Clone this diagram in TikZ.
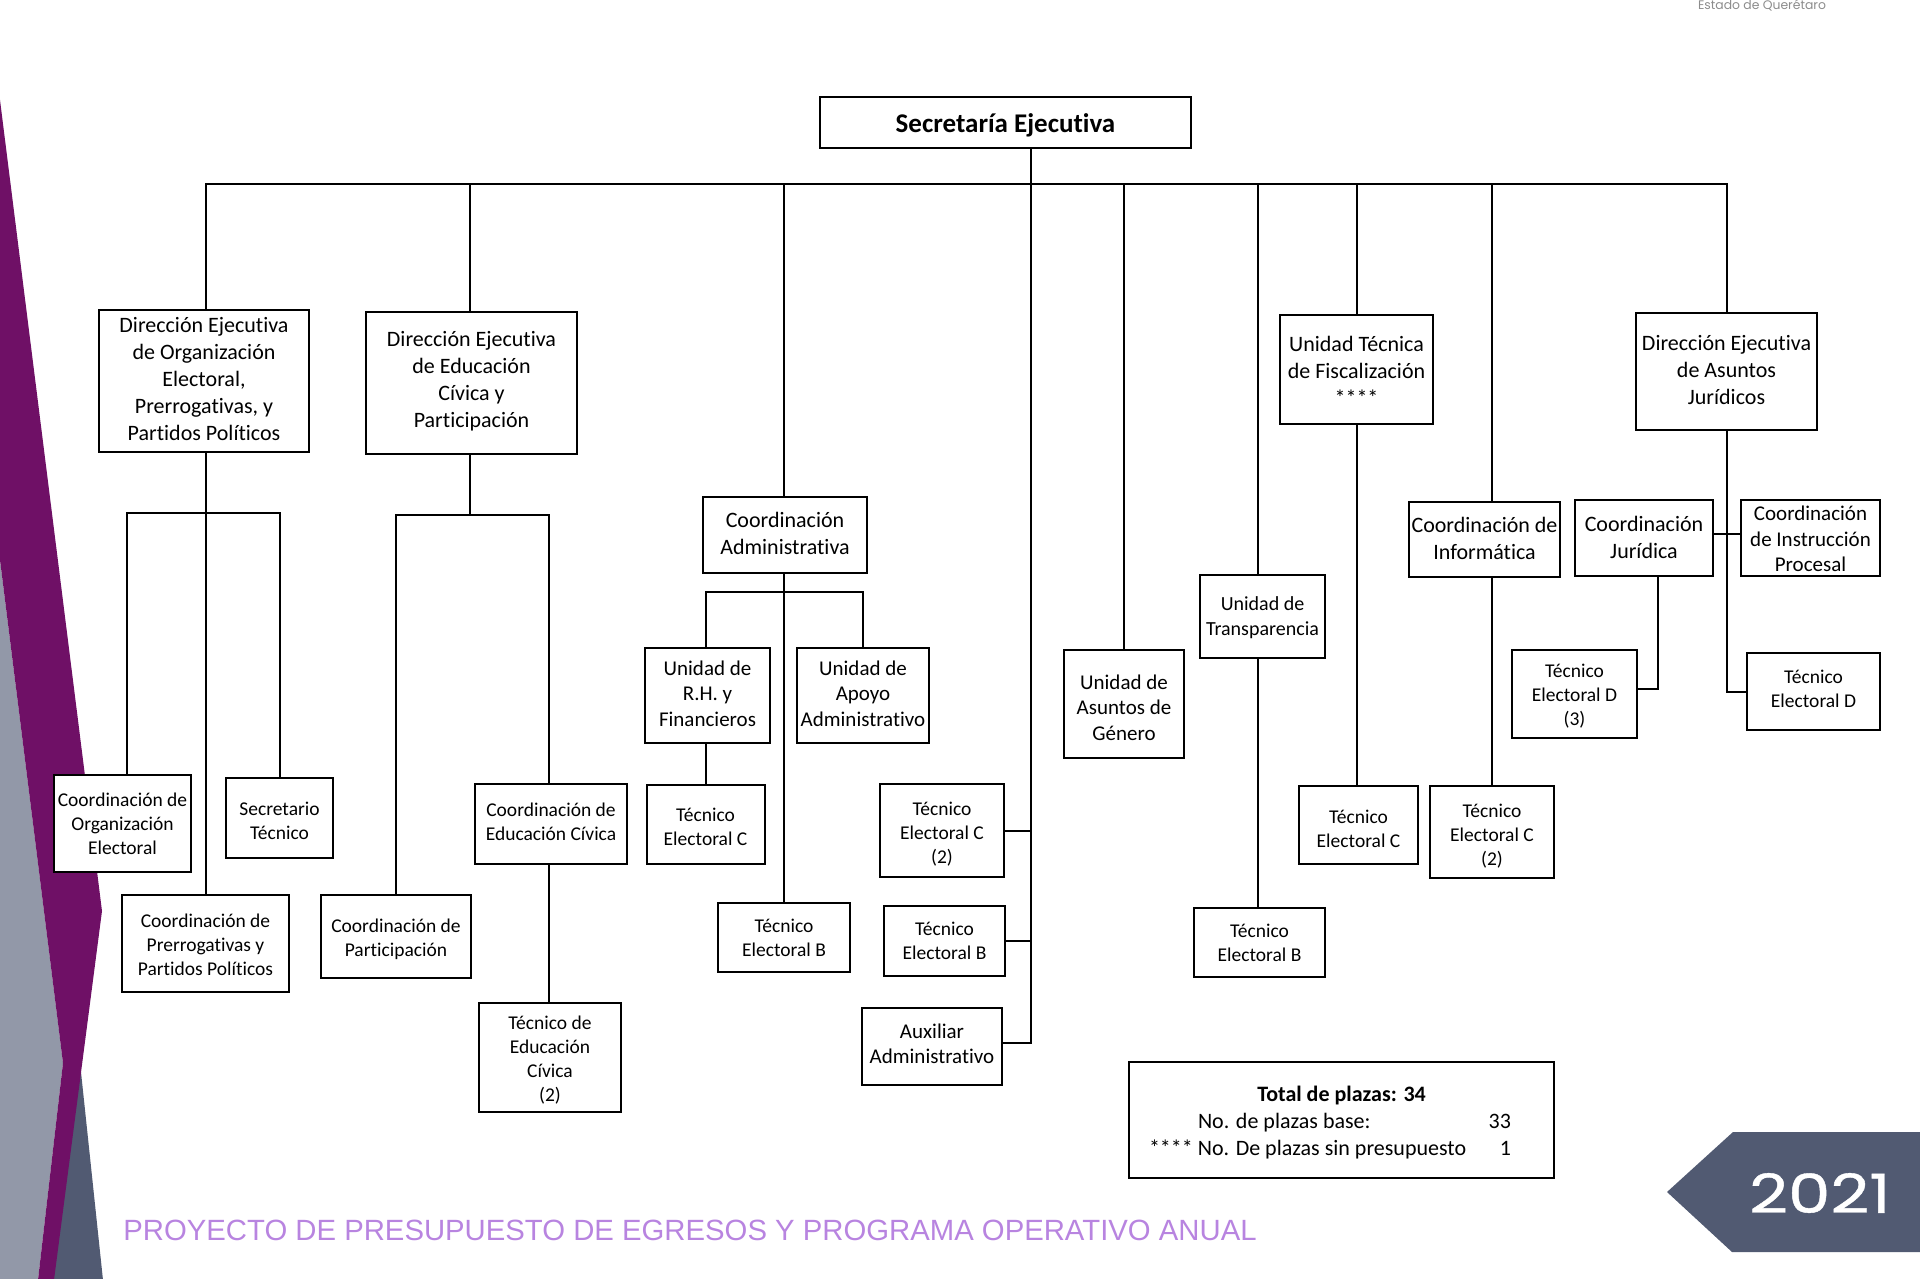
\documentclass[tikz,border=0pt]{standalone}
\usepackage{fontspec}
\setmainfont{Carlito}[Ligatures=NoCommon]
\newfontfamily\footfont{Liberation Sans}
\newfontfamily\yearfont{Poppins}[FakeBold=0.7]
\newfontfamily\stampfont{Poppins}
\newcommand{\tdn}[1]{\rule{0pt}{\dimexpr0.7em+#1\relax}}
\usetikzlibrary{positioning}
\definecolor{plum}{HTML}{6F1066}
\definecolor{slate}{HTML}{515A72}
\definecolor{mist}{HTML}{9298A8}
\definecolor{lilac}{HTML}{B884E0}
\begin{document}
\begin{tikzpicture}[
    x=0.5pt, y=-0.5pt,
    box/.style={draw, fill=white, line width=1pt, align=center, inner sep=0pt},
    boxl/.style={box, font=\fontsize{11}{13.5}\selectfont},
    boxm/.style={box, font=\fontsize{10.5}{12.75}\selectfont},
    boxs/.style={box, font=\fontsize{9.75}{12}\selectfont},
    tup/.style={execute at end node={\rule[-#1]{0pt}{0pt}}},
    conn/.style={line width=1pt}
  ]
  \useasboundingbox (0,0) rectangle (1920,1278.5);
  \fill[mist] (0,560) -- (63,1063) -- (38,1280) -- (0,1280) -- cycle;
  \fill[slate] (70,1072) -- (81,1072) -- (103,1280) -- (45,1280) -- cycle;
  \fill[plum] (0,100) -- (102,911) -- (54,1280) -- (38,1280) -- (63,1063) -- (0,560) -- cycle;
  \fill[slate] (1667,1192) -- (1733,1132) -- (1920,1132) -- (1920,1252) -- (1732,1252) -- cycle;
  \node[text=white, xscale=1.25, transform shape, font=\yearfont\fontsize{27}{30}\selectfont] (year) at (1820,1193) {2021};
  \node[text=black!45, font=\stampfont\fontsize{6.2}{8}\selectfont] (estado) at (1762,5) {Estado de Querétaro};
  \node[anchor=west, inner sep=0pt, text=lilac, font=\footfont\fontsize{14.65}{18}\selectfont] (foot) at (123,1230) {PROYECTO DE PRESUPUESTO DE EGRESOS Y PROGRAMA OPERATIVO ANUAL};

  \node[box, minimum width=185.5pt, minimum height=25.5pt, font=\bfseries\fontsize{13.5}{16}\selectfont] (sec) at (1005.5,122.5) {\tdn{2.4pt}Secretaría Ejecutiva};
  \node[boxl, tup=2.4pt, minimum width=105pt, minimum height=71pt] (deoe) at (204,381) {Dirección Ejecutiva\\de Organización\\Electoral,\\Prerrogativas, y\\Partidos Políticos};
  \node[boxl, tup=4pt, minimum width=105.5pt, minimum height=71pt] (deec) at (471.5,383) {Dirección Ejecutiva\\de Educación\\Cívica y\\Participación};
  \node[boxl, tup=1.8pt, minimum width=82pt, minimum height=38pt] (adm) at (785,535) {Coordinación\\Administrativa};
  \node[boxl, minimum width=76.5pt, minimum height=54.5pt] (utf) at (1356.5,369.5) {\tdn{1.2pt}Unidad Técnica\\de Fiscalización\\****};
  \node[boxl, tup=1.5pt, minimum width=90.5pt, minimum height=58.5pt] (deaj) at (1726.5,371.5) {Dirección Ejecutiva\\de Asuntos\\Jurídicos};
  \node[boxl, tup=1.2pt, minimum width=75.5pt, minimum height=37.5pt] (inf) at (1484.5,539.5) {Coordinación de\\Informática};
  \node[boxl, tup=1pt, minimum width=69pt, minimum height=38pt] (jur) at (1644,538) {Coordinación\\Jurídica};
  \node[boxm, minimum width=69.5pt, minimum height=38pt] (inst) at (1810.5,538) {\tdn{1.2pt}Coordinación\\de Instrucción\\Procesal};
  \node[boxs, minimum width=62.5pt, minimum height=41.5pt, font=\fontsize{10}{12.25}\selectfont] (transp) at (1262.5,616.5) {\tdn{1.2pt}Unidad de\\Transparencia};
  \node[boxm, minimum width=60pt, minimum height=54pt] (gen) at (1124,704) {\tdn{3.6pt}Unidad de\\Asuntos de\\Género};
  \node[boxm, tup=1.8pt, minimum width=62.5pt, minimum height=47.5pt] (rh) at (707.5,695.5) {Unidad de\\R.H. y\\Financieros};
  \node[boxm, tup=1.8pt, minimum width=66pt, minimum height=47.5pt] (apoyo) at (863,695.5) {Unidad de\\Apoyo\\Administrativo};

  \node[boxs, minimum width=59pt, minimum height=39.5pt, below=20pt of rh, xshift=-1pt] (tecrh) {\tdn{2.4pt}Técnico\\Electoral C};
  \node[boxs, minimum width=66pt, minimum height=34.5pt, below=164pt of adm, xshift=-0.5pt] (tecadm) {Técnico\\Electoral B};
  \node[boxs, minimum width=62pt, minimum height=46.5pt] (tecc) at (942,830.5) {\tdn{3.6pt}Técnico\\Electoral C\\(2)};
  \node[boxs, minimum width=60.5pt, minimum height=35pt] (tecb) at (944.5,941) {Técnico\\Electoral B};
  \node[boxm, tup=3pt, minimum width=70pt, minimum height=38.5pt] (aux) at (932,1046.5) {Auxiliar\\Administrativo};
  \node[boxs, minimum width=68.5pt, minimum height=48.5pt] (org) at (122.5,823.5) {Coordinación de\\Organización\\Electoral};
  \node[boxs, minimum width=53.5pt, minimum height=40pt] (sectec) at (279.5,818) {\tdn{2.4pt}Secretario\\Técnico};
  \node[boxs, minimum width=83.5pt, minimum height=48.5pt, below=220.5pt of deoe, xshift=0.75pt] (prer) {\tdn{1.2pt}Coordinación de\\Prerrogativas y\\Partidos Políticos};
  \node[boxs, minimum width=75pt, minimum height=41.5pt] (part) at (396,936.5) {\tdn{2.4pt}Coordinación de\\Participación};
  \node[boxs, tup=2.4pt, minimum width=76pt, minimum height=40pt] (coordec) at (551,824) {Coordinación de\\Educación Cívica};
  \node[boxs, minimum width=71pt, minimum height=54.5pt, below=68.5pt of coordec, xshift=-0.5pt] (tecec) {\tdn{2.4pt}Técnico de\\Educación\\Cívica\\(2)};
  \node[boxs, minimum width=62.5pt, minimum height=44pt] (tecd3) at (1574.5,694) {\tdn{2.4pt}Técnico\\Electoral D\\(3)};
  \node[boxs, tup=2.4pt, minimum width=66.5pt, minimum height=38.5pt] (tecd) at (1813.5,691.5) {Técnico\\Electoral D};
  \node[boxs, minimum width=59.5pt, minimum height=39pt, below=180pt of utf, xshift=1pt] (tecutf) {\tdn{3.6pt}Técnico\\Electoral C};
  \node[boxs, minimum width=62pt, minimum height=46pt, below=103.5pt of inf, xshift=3.75pt] (tecinf) {\tdn{3.6pt}Técnico\\Electoral C\\(2)};
  \node[boxs, minimum width=65.5pt, minimum height=34.5pt, below=124pt of transp, xshift=-1.5pt] (tectransp) {Técnico\\Electoral B};
  \node[boxl, minimum width=212.5pt, minimum height=58pt] (total) at (1341.5,1120) {\tdn{2.4pt}\textbf{Total de plazas: 34}\\\makebox[192.5pt][s]{\hspace{24.5pt}No. de plazas base:\hfill 33\hspace{11.5pt}}\\\makebox[192.5pt][s]{**** No. De plazas sin presupuesto\hfill 1\hspace{11.5pt}}};

  \coordinate (bus) at (1031,184);
  \coordinate (deoebar) at (206,513);
  \coordinate (deecbar) at (470,515);
  \coordinate (admbar) at (784,592);

  \draw[conn] ([xshift=1pt]deoe.north) |- (bus);
  \draw[conn] (deaj.north) |- (bus);
  \draw[conn] (sec.south -| bus) |- ([yshift=2pt]aux.east);
  \draw[conn] ([xshift=-0.75pt]deec.north) -- ([xshift=-0.75pt]deec.north |- bus);
  \draw[conn] (tecadm.north |- adm.north) -- (tecadm.north |- bus);
  \draw[conn] (gen.north) -- (gen.north |- bus);
  \draw[conn] ([xshift=-2.25pt]transp.north) -- ([xshift=-2.25pt]transp.north |- bus);
  \draw[conn] (utf.north) -- (utf.north |- bus);
  \draw[conn] (tecinf.north |- inf.north) -- (tecinf.north |- bus);
  \draw[conn] (tecc.east) -- (tecc.east -| bus);
  \draw[conn] (tecb.east) -- (tecb.east -| bus);

  \draw[conn] (prer.north |- deoe.south) -- (prer.north);
  \draw[conn] ([xshift=2.25pt]org.north) |- (deoebar) -| (sectec.north);
  \draw[conn] (deecbar |- deec.south) -- (deecbar);
  \draw[conn] (part.north) |- (deecbar) -| ([xshift=-1pt]coordec.north);
  \draw[conn] ([xshift=-0.5pt]tecec.north |- coordec.south) -- ([xshift=-0.5pt]tecec.north);
  \draw[conn] (tecadm.north |- adm.south) -- (tecadm.north);
  \draw[conn] (tecrh.north |- rh.north) |- (admbar) -| (apoyo.north);
  \draw[conn] (tecrh.north |- rh.south) -- (tecrh.north);
  \draw[conn] (utf.south) -- (utf.south |- tecutf.north);
  \draw[conn] (tecinf.north |- inf.south) -- (tecinf.north);
  \draw[conn] ([xshift=-0.75pt]tectransp.north |- transp.south) -- ([xshift=-0.75pt]tectransp.north);
  \draw[conn] ([xshift=7pt]jur.south) |- ([yshift=2.5pt]tecd3.east);
  \draw[conn] (deaj.south) |- (tecd.west);
  \draw[conn] ([yshift=2pt]jur.east) -- ([yshift=2pt]inst.west);
\end{tikzpicture}
\end{document}
